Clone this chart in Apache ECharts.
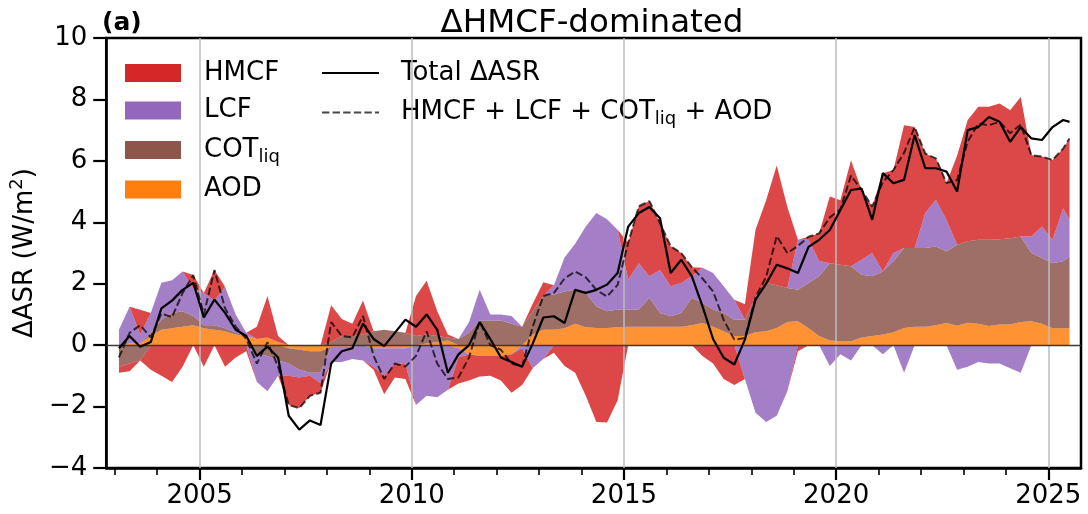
<!DOCTYPE html>
<html>
<head>
<meta charset="utf-8">
<script src="https://cdn.jsdelivr.net/npm/echarts@6/dist/echarts.min.js"></script>
<style>
  html, body { margin: 0; padding: 0; background: #ffffff; }
  #chart { width: 1088px; height: 514px; }
</style>
</head>
<body>
<div id="chart"></div>
<script>
// Sample times (decimal years) at roughly quarterly spacing
const years = [
  2003.1, 2003.35, 2003.6, 2003.85, 2004.1, 2004.35, 2004.6, 2004.85,
  2005.1, 2005.35, 2005.6, 2005.85, 2006.1, 2006.35, 2006.6, 2006.85,
  2007.1, 2007.35, 2007.6, 2007.85, 2008.1, 2008.35, 2008.6, 2008.85,
  2009.1, 2009.35, 2009.6, 2009.85, 2010.1, 2010.35, 2010.6, 2010.85,
  2011.1, 2011.35, 2011.6, 2011.85, 2012.1, 2012.35, 2012.6, 2012.85,
  2013.1, 2013.35, 2013.6, 2013.85, 2014.1, 2014.35, 2014.6, 2014.85,
  2015.1, 2015.35, 2015.6, 2015.85, 2016.1, 2016.35, 2016.6, 2016.85,
  2017.1, 2017.35, 2017.6, 2017.85, 2018.1, 2018.35, 2018.6, 2018.85,
  2019.1, 2019.35, 2019.6, 2019.85, 2020.1, 2020.35, 2020.6, 2020.85,
  2021.1, 2021.35, 2021.6, 2021.85, 2022.1, 2022.35, 2022.6, 2022.85,
  2023.1, 2023.35, 2023.6, 2023.85, 2024.1, 2024.35, 2024.6, 2024.85,
  2025.1, 2025.35, 2025.5
];

// Component contributions to ΔASR (W/m²)
const aod = [
  0.0, 0.05, 0.05, 0.3, 0.5, 0.55, 0.6, 0.65,
  0.55, 0.5, 0.45, 0.35, 0.3, 0.2, 0.25, 0.1,
  -0.1, -0.15, -0.2, -0.2, -0.05, -0.05, -0.05, 0.0,
  -0.1, -0.1, -0.1, -0.1, 0.0, 0.05, 0.1, 0.15,
  -0.1, -0.3, -0.35, -0.35, -0.35, -0.3, 0.0, 0.35,
  0.5, 0.5, 0.55, 0.7, 0.58, 0.56, 0.56, 0.58,
  0.6, 0.6, 0.6, 0.6, 0.6, 0.6, 0.65, 0.72,
  0.6, 0.45, 0.3, 0.3, 0.42, 0.45, 0.56, 0.75,
  0.78, 0.55, 0.3, 0.15, 0.13, 0.13, 0.25, 0.3,
  0.35, 0.42, 0.56, 0.6, 0.6, 0.65, 0.72, 0.63,
  0.73, 0.7, 0.62, 0.67, 0.67, 0.75, 0.78, 0.7,
  0.55, 0.55, 0.55
];
const cot = [
  -0.7, -0.6, -0.5, 0.1, 0.33, 0.5, 0.5, 0.3,
  0.1, 0.15, 0.1, 0.05, 0.0, -0.3, -0.35, -0.5,
  -0.5, -0.65, -0.7, -0.7, 0.1, 0.3, 0.3, 0.35,
  0.45, 0.5, 0.45, 0.4, 0.3, 0.3, 0.2, 0.1,
  0.2, 0.4, 0.8, 0.8, 0.8, 0.7, 0.6, 0.75,
  1.1, 1.15, 1.2, 1.1, 1.12, 0.71, 0.54, 0.58,
  0.56, 0.56, 0.94, 0.45, 0.34, 0.45, 0.89, 0.65,
  0.56, 0.6, 0.53, 0.53, 1.17, 1.57, 1.39, 1.11,
  1.02, 1.47, 1.94, 2.52, 2.49, 2.44, 2.04, 1.94,
  2.05, 2.31, 2.6, 2.56, 2.56, 2.56, 2.33, 2.64,
  2.65, 2.73, 2.81, 2.78, 2.81, 2.79, 2.22, 2.14,
  2.12, 2.18, 2.34
];
const lcf = [
  0.5, 1.2, 0.3, 0.65, 1.2, 1.06, 1.3, 0.9,
  1.05, 0.8, 1.35, 0.6, 0.1, -0.9, -1.15, -0.5,
  -0.4, -0.25, -0.1, -0.33, -0.5, -0.5, -0.4, -0.5,
  -0.6, -0.9, -0.5, -0.5, -1.95, -1.65, -1.7, -1.45,
  -0.3, 0.35, 1.0, 0.2, 0.2, 0.25, -0.1, -0.75,
  -0.45, 0.3, 1.1, 1.5, 2.16, 3.03, 3.0, 2.6,
  0.97, 1.51, 0.7, 1.4, 0.98, 0.97, 0.7, 1.15,
  1.19, 0.87, 0.65, -1.1, -2.2, -2.5, -2.3, -1.5,
  1.63, 1.41, 0.5, -0.68, -0.3, -0.5, 0.49, 0.76,
  -0.3, 0.27, -0.9, 0.0, 1.14, 1.52, 1.03, -0.8,
  -0.7, -0.55, -0.6, -0.6, -0.75, -0.9, 0.54, 1.02,
  0.76, 1.73, 1.19
];
const hmcf = [
  -0.2, -0.25, 0.8, -0.8, -1.0, -1.2, -0.7, 0.43,
  -0.7, 1.0, -0.7, -0.4, -0.2, 0.4, 1.35, 0.2,
  -0.95, -1.0, -0.65, -0.32, 1.2, 0.55, 0.4, 1.1,
  -0.1, -0.6, -0.45, -0.5, 1.3, 1.75, 0.8, 0.1,
  -0.85, -0.85, -0.67, -0.65, -0.8, -1.25, -1.2, 0.25,
  0.45, -0.25, -0.68, -0.9, -1.65, -2.5, -2.52, -1.8,
  1.2, 1.85, 2.45, 1.52, 1.3, 0.98, 0.3, -0.35,
  -0.6, -1.1, -1.3, 0.5, 2.17, 2.7, 3.9, 2.64,
  -0.2, 0.1, 0.9, 2.17, 2.1, 3.45, 2.27, 1.51,
  3.2, 2.7, 4.0, 3.94, 1.94, 1.35, 1.2, 2.9,
  3.95, 4.33, 4.33, 4.42, 4.17, 4.54, 2.65, 2.28,
  2.6, 1.94, 2.65
];
// Total ΔASR (solid black line)
const total = [
  -0.1, 0.3, -0.05, 0.1, 1.2, 1.45, 1.8, 2.03,
  0.9, 1.48, 1.05, 0.5, 0.3, -0.35, -0.05, -0.4,
  -2.3, -2.75, -2.45, -2.6, -0.6, -0.2, -0.1, 0.7,
  0.2, -0.03, 0.4, 0.83, 0.6, 1.0, 0.5, -0.9,
  -0.3, 0.0, 0.75, 0.2, -0.4, -0.55, -0.7, 0.05,
  0.9, 0.94, 0.72, 1.8, 1.7, 1.8, 1.97, 2.35,
  3.86, 4.3, 4.5, 4.13, 2.35, 2.78, 2.24, 1.27,
  0.2, -0.41, -0.63, 0.18, 1.48, 2.0, 2.62, 2.5,
  2.35, 3.2, 3.43, 3.75, 4.4, 5.05, 5.1, 4.08,
  5.6, 5.27, 5.38, 6.84, 5.76, 5.76, 5.65, 5.0,
  7.0, 7.1, 7.43, 7.27, 6.62, 7.1, 6.73, 6.68,
  7.1, 7.33, 7.27
];

const xMajorTicks = [2005, 2010, 2015, 2020, 2025];
const xMinorTicks = [2003, 2004, 2006, 2007, 2008, 2009, 2011, 2012, 2013, 2014,
                     2016, 2017, 2018, 2019, 2021, 2022, 2023, 2024];
const xRange = [2002.8, 2025.77];

const FONT = 'DejaVu Sans';
const AREA_ALPHA = 0.85;

// [legend name, values, colour]  (stacking order from the zero line outwards)
const components = [
  ['AOD', aod, '#ff7f0e'],
  ['COT_liq', cot, '#8c564b'],
  ['LCF', lcf, '#9467bd'],
  ['HMCF', hmcf, '#d62728']
];

// data rows are [value, year] so that ECharts stacks the value dimension
const series = [];
components.forEach(([name, vals, color]) => {
  [['pos', v => Math.max(v, 0)], ['neg', v => Math.min(v, 0)]].forEach(([stack, f]) => {
    series.push({
      name: name,
      type: 'line',
      stack: stack,
      stackStrategy: 'all',
      data: years.map((t, i) => [f(vals[i]), t]),
      encode: { x: 1, y: 0 },
      symbol: 'none',
      showSymbol: false,
      lineStyle: { width: 0, opacity: 0 },
      itemStyle: { color: color },
      areaStyle: { color: color, opacity: AREA_ALPHA },
      emphasis: { disabled: true },
      silent: true,
      z: 2
    });
  });
});

// grid lines and zero line drawn over the areas
series.push({
  name: 'refLines',
  type: 'line',
  data: [],
  silent: true,
  markLine: {
    symbol: 'none',
    silent: true,
    label: { show: false },
    animation: false,
    data: xMajorTicks.map(v => ({ xAxis: v, lineStyle: { color: '#bdbdbd', width: 1.5, type: 'solid' } }))
      .concat([{ yAxis: 0, lineStyle: { color: '#3a3a3a', width: 1.3, type: 'solid' } }])
  }
});

const sumName = 'HMCF + LCF + COT_liq + AOD';
series.push({
  name: sumName,
  type: 'line',
  data: years.map((t, i) => [t, +(aod[i] + cot[i] + lcf[i] + hmcf[i]).toFixed(3)]),
  symbol: 'none',
  showSymbol: false,
  lineStyle: { color: 'rgba(0,0,0,0.72)', width: 2, type: [7.4, 3.2] },
  itemStyle: { color: 'rgba(0,0,0,0.72)' },
  emphasis: { disabled: true },
  z: 6
});
series.push({
  name: 'Total ΔASR',
  type: 'line',
  data: years.map((t, i) => [t, total[i]]),
  symbol: 'none',
  showSymbol: false,
  lineStyle: { color: '#000000', width: 2.2 },
  itemStyle: { color: '#000000' },
  emphasis: { disabled: true },
  z: 7
});

const rich = {
  s: { fontSize: 18, lineHeight: 18, padding: [14, 0, 0, 0], fontFamily: FONT, color: '#000' }
};
const fmt = name => name.replace('COT_liq', 'COT{s|liq}');

const chart = echarts.init(document.getElementById('chart'), null, { renderer: 'canvas' });
chart.setOption({
  animation: false,
  backgroundColor: '#ffffff',
  textStyle: { fontFamily: FONT },
  title: [
    {
      text: 'ΔHMCF-dominated',
      left: 592, top: 7, textAlign: 'center', padding: 0,
      textStyle: { fontFamily: FONT, fontSize: 32.5, fontWeight: 'normal', color: '#000' }
    },
    {
      text: '(a)',
      left: 102, top: 11, padding: 0,
      textStyle: { fontFamily: FONT, fontSize: 25, fontWeight: 'bold', color: '#000' }
    }
  ],
  legend: [
    {
      data: ['HMCF', 'LCF', 'COT_liq', 'AOD'],
      orient: 'vertical',
      left: 125, top: 59, padding: 0,
      icon: 'rect',
      itemWidth: 56, itemHeight: 18, itemGap: 9.5,
      selectedMode: false,
      formatter: fmt,
      textStyle: { fontFamily: FONT, fontSize: 26, lineHeight: 28, color: '#000', padding: [0, 0, 0, 18], rich: rich }
    },
    {
      data: ['Total ΔASR', sumName],
      orient: 'vertical',
      left: 321, top: 59, padding: 0,
      itemWidth: 57, itemHeight: 18, itemGap: 9.5,
      selectedMode: false,
      formatter: fmt,
      itemStyle: { color: 'rgba(0,0,0,0)', borderWidth: 0, opacity: 0 },
      textStyle: { fontFamily: FONT, fontSize: 26, lineHeight: 28, color: '#000', padding: [0, 0, 0, 17], rich: rich }
    }
  ],
  grid: {
    left: 101, right: 7, top: 38, bottom: 46,
    show: true, borderColor: '#000', borderWidth: 2.5, backgroundColor: 'transparent'
  },
  xAxis: [
    {
      type: 'value', min: xRange[0], max: xRange[1],
      axisLine: { show: true, onZero: false, lineStyle: { color: '#000', width: 2.5 } },
      axisTick: { show: true, customValues: xMajorTicks, length: 12, lineStyle: { color: '#000', width: 2.2 } },
      axisLabel: {
        customValues: xMajorTicks, formatter: v => String(v),
        fontFamily: FONT, fontSize: 26, color: '#000', margin: 15
      },
      splitLine: { show: false }
    },
    {
      type: 'value', min: xRange[0], max: xRange[1], position: 'bottom',
      axisLine: { show: false, onZero: false },
      axisTick: { show: true, customValues: xMinorTicks, length: 7, lineStyle: { color: '#000', width: 1.6 } },
      axisLabel: { show: false },
      splitLine: { show: false }
    }
  ],
  yAxis: {
    type: 'value', min: -4, max: 10, interval: 2,
    axisLine: { show: true, onZero: false, lineStyle: { color: '#000', width: 2.5 } },
    axisTick: { show: true, length: 13, lineStyle: { color: '#000', width: 2.2 } },
    axisLabel: {
      fontFamily: FONT, fontSize: 26, color: '#000', margin: 19,
      formatter: v => String(v).replace('-', '\u2212')
    },
    splitLine: { show: false },
    name: 'ΔASR (W/m{s|2})',
    nameLocation: 'middle',
    nameGap: 62,
    nameRotate: 90,
    nameTextStyle: {
      fontFamily: FONT, fontSize: 26, color: '#000',
      rich: { s: { fontSize: 18, fontFamily: FONT, color: '#000', padding: [0, 0, 16, 0] } }
    }
  },
  series: series
});
</script>
</body>
</html>
